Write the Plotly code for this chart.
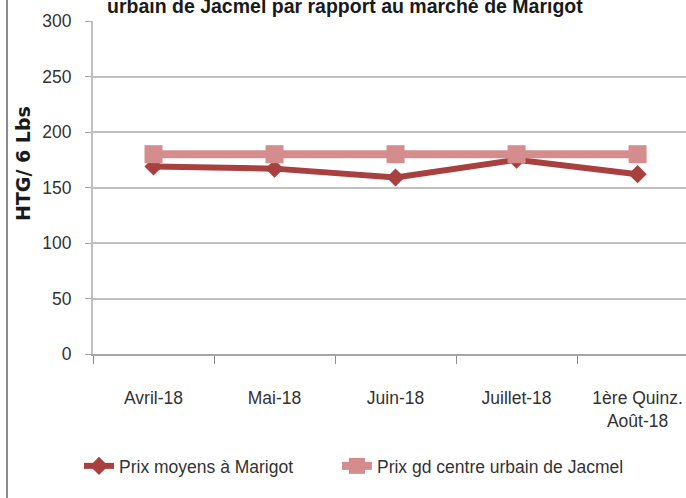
import plotly.graph_objects as go

categories = ["Avril-18", "Mai-18", "Juin-18", "Juillet-18", "1ère Quinz.<br>Août-18"]
marigot = [169, 167, 159, 175, 162]
jacmel = [180, 180, 180, 180, 180]
y_ticks = [0, 50, 100, 150, 200, 250, 300]
series_names = ["Prix moyens à Marigot", "Prix gd centre urbain de Jacmel"]

FONT = "Liberation Sans, Arial, sans-serif"
TXT = "#333333"
FS = 17.5

fig = go.Figure()
fig.add_trace(go.Scatter(
    x=categories, y=marigot, name=series_names[0] + "&nbsp;" * 8,
    mode="lines+markers",
    line=dict(color="#A8403F", width=6),
    marker=dict(symbol="diamond", size=14, color="#A8403F"),
))
fig.add_trace(go.Scatter(
    x=categories, y=jacmel, name=series_names[1],
    mode="lines+markers",
    line=dict(color="#D48C8C", width=8),
    marker=dict(symbol="square", size=18, color="#D48C8C"),
))

fig.update_layout(
    width=686, height=498,
    margin=dict(l=93, r=0, t=21, b=144, autoexpand=False),
    paper_bgcolor="white", plot_bgcolor="white",
    font=dict(family=FONT, size=FS, color=TXT),
    showlegend=True,
    legend=dict(orientation="h", xref="container", yref="container",
                x=79 / 686, xanchor="left", y=1 - 466 / 498, yanchor="middle",
                font=dict(family=FONT, size=FS, color=TXT),
                bgcolor="rgba(0,0,0,0)"),
    xaxis=dict(
        type="category", range=[-0.5, 4.4],
        showgrid=False, showline=True, linecolor="#A6A6A6", linewidth=2,
        ticks="outside", tickson="boundaries", ticklen=8, tickcolor="#8C8C8C",
        ticklabelstandoff=27,
        tickfont=dict(family=FONT, size=FS, color=TXT),
    ),
    yaxis=dict(
        range=[0, 300], tickvals=y_ticks,
        showgrid=True, gridcolor="#BFBFBF", gridwidth=1.5,
        showline=True, linecolor="#BFBFBF", linewidth=2,
        ticks="outside", ticklen=6, tickcolor="#A6A6A6",
        ticklabelstandoff=10,
        tickfont=dict(family=FONT, size=FS, color=TXT),
        zeroline=False,
    ),
    annotations=[
        dict(text="<b>urbain de Jacmel par rapport au marché de Marigot</b>",
             xref="paper", yref="paper", x=(345 - 93) / 593, y=1.046,
             xanchor="center", yanchor="middle", showarrow=False,
             font=dict(family=FONT, size=19.5, color="#1a1a1a")),
        dict(text="<b>HTG/ 6 Lbs</b>", textangle=-90,
             xref="paper", yref="paper", x=(23 - 93) / 593, y=(354 - 164) / 333,
             xanchor="center", yanchor="middle", showarrow=False,
             font=dict(family="DejaVu Sans, Arial, sans-serif", size=19, color="#1a1a1a")),
    ],
    shapes=[
        dict(type="line", xref="paper", yref="paper",
             x0=(7 - 93) / 593, x1=(7 - 93) / 593, y0=-144 / 333, y1=1 + 21 / 333,
             line=dict(color="#8C8C8C", width=2)),
    ],
)

fig.write_html("out.html", config={"displayModeBar": False},
               post_script="document.body.style.margin='0';")
